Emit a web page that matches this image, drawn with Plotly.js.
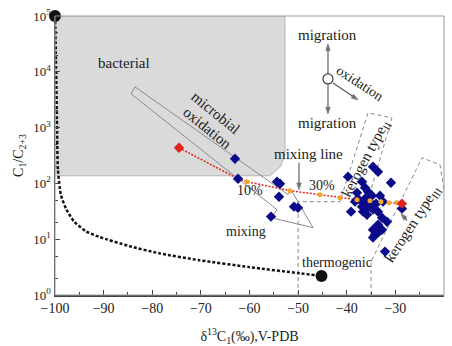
<!DOCTYPE html>
<html><head><meta charset="utf-8">
<script src="https://cdn.plot.ly/plotly-3.0.1.min.js"></script>
<style>html,body{margin:0;padding:0;background:#fff}#c{width:452px;height:346px}</style>
</head><body><div id="c"></div>
<script>
// ---- data ----
const xTickVals = [-100,-90,-80,-70,-60,-50,-40,-30,-20];
const yTickVals = [1,10,100,1000,10000,100000];
const yTickText = ['10<sup>0</sup>','10<sup>1</sup>','10<sup>2</sup>','10<sup>3</sup>','10<sup>4</sup>','10<sup>5</sup>'];

// bacterial field outline
const bactX = [-100,-52.7,-52.7,-53.6,-55.8,-100];
const bactY = [100000,100000,330,200,137,137];

// black dashed end-member curve
const curveX = [-100,-99.8,-99.6,-99.4,-98.8,-97.7,-96.1,-93.6,-90.9,-84.7,-78.6,-70.3,-60,-49.7,-45.2];
const curveY = [100000,16200,1380,178,63,34.7,20.9,13.8,11,7.5,5.6,4.2,3.16,2.45,2.2];
const endX = [-100,-45.2];
const endY = [100000,2.2];

// microbial oxidation arrow band
const oxBandX = [-84.37,-83.55,-52.08,-51.46,-46.94,-55.58,-54.34,-84.37];
const oxBandY = [4027,5370,63,77,16.1,24.3,33.8,4027];

// kerogen fields (dashed)
const ker2X = [-50,-50,-41.39,-35.63,-30.70,-36.04];
const ker2Y = [1,47.1,47.1,1841,1496,38.3];
const ker3X = [-35,-35,-24.52,-20.82,-20];
const ker3Y = [1,3.97,288,216,77];

// samples
const sampX = [-62.98,-62.37,-54.34,-53.73,-53.93,-50.85,-50.03,-55.58,
  -34.60,-33.57,-39.74,-36.86,-30.90,-37.89,-35.63,-34.81,-33.16,-36.04,-38.30,-36.65,-35.22,-33.98,-32.54,
  -39.12,-36.86,-35.63,-34.60,-36.65,-33.57,-35.84,-28.64,-32.75,-31.72,-33.57,-34.60,-32.75,-34.19,-33.57,-34.60,-32.13,
  -37.69,-36.24];
const sampY = [277,121,107,98.8,57.8,38.3,36.7,25.4,
  199,162,132,107,103,68.2,71.1,60.3,60.3,55.5,47.1,45.2,45.2,43.4,47.1,
  31.2,38.3,36.7,33.9,31.2,31.2,27.5,35.3,24.3,20.6,18.2,14.8,14.8,12.1,13.1,10.7,6.0,
  53.2,83.8];

// mixing line (end members + steps)
const mixX = [-74.5,-62.4,-60.51,-51.67,-45.50,-41.39,-37.89,-35.22,-32.96,-31.31,-29.67,-28.64];
const mixY = [435,121,107,74,62.8,55.5,51.1,49.0,47.1,45.2,45.2,43.4];
const stepX = [-60.51,-51.67,-45.50,-41.39,-37.89,-35.22,-32.96,-31.31,-29.67];
const stepY = [107,74,62.8,55.5,51.1,49.0,47.1,45.2,45.2];
const memberX = [-74.5,-28.64];
const memberY = [435,43.4];

// migration / oxidation sketch: centre and arrows [x0,y0,x1,y1] (y as ratio)
const hubX = [-43.86], hubY = [7460];
const arrows = [
  [-43.86,9160,-43.86,31550],
  [-43.86,6080,-43.86,1766],
  [-42.83,6320,-37.69,3141],
  [-49.82,234,-49.82,77],
  [-27.6,21.5,-28.84,28.7]
];

// ---- plot ----
const F = 'Liberation Serif, Times New Roman, serif';
const traces = [
  {x:bactX,y:bactY,mode:'lines',fill:'toself',fillcolor:'#dadada',line:{color:'#b5b5b5',width:1},hoverinfo:'skip'},
  {x:oxBandX,y:oxBandY,mode:'lines',line:{color:'#8a8a8a',width:1}},
  {x:ker2X,y:ker2Y,mode:'lines',line:{color:'#8a8a8a',width:1,dash:'4px,3px'}},
  {x:ker3X,y:ker3Y,mode:'lines',line:{color:'#8a8a8a',width:1,dash:'4px,3px'}},
  {x:curveX,y:curveY,mode:'lines',line:{color:'#111',width:2.5,dash:'3px,2px',shape:'spline',smoothing:0.6}},
  {x:endX,y:endY,mode:'markers',cliponaxis:false,marker:{color:'#111',size:12}},
  {x:mixX,y:mixY,mode:'lines',line:{color:'#e0251f',width:1.5,dash:'2px,1.5px'}},
  {x:sampX,y:sampY,mode:'markers',marker:{symbol:'diamond',color:'#0b0b8a',size:8}},
  {x:stepX,y:stepY,mode:'markers',marker:{color:'#f3a52a',size:5}},
  {x:memberX,y:memberY,mode:'markers',marker:{symbol:'diamond',color:'#e0251f',size:8}}
];
arrows.forEach(a=>{
  traces.push({x:[a[0],a[2]],y:[a[1],a[3]],mode:'lines+markers',cliponaxis:false,
    line:{color:'#555',width:1.1},
    marker:{symbol:'arrow',angleref:'previous',size:[0,7],color:'#333'}});
});
traces.push({x:hubX,y:hubY,mode:'markers',marker:{symbol:'circle',color:'#fff',size:10,line:{color:'#444',width:1.3}}});

function txt(t,x,ly,size,angle){return {text:t,x:x,y:ly,xref:'x',yref:'y',showarrow:false,font:{family:F,size:size,color:'#222'},textangle:angle||0};}

const annotations = [
  txt('bacterial',-85.81,4.159,15),
  txt('microbial',-66.9,3.265,15,39),
  txt('oxidation',-68.7,2.996,15,39),
  txt('migration',-43.86,4.66,15),
  txt('migration',-43.86,3.086,15),
  txt('oxidation',-37.28,3.783,14,33),
  txt('mixing line',-47.97,2.531,15),
  txt('10%',-59.9,1.869,14),
  txt('30%',-45.09,1.959,14),
  txt('mixing',-60.72,1.136,14),
  txt('thermogenic',-42.0,0.581,14),
  txt('kerogen type<sub>II</sub>',-36.04,2.43,15,-62),
  txt('kerogen type<sub>III</sub>',-26.45,1.28,15,-57)
];

const layout = {
  width:452,height:346,
  margin:{l:55,r:8,t:16,b:51},
  paper_bgcolor:'#fff',plot_bgcolor:'#fff',
  showlegend:false,
  font:{family:F,color:'#222'},
  xaxis:{range:[-100,-20],tickvals:xTickVals,ticks:'inside',ticklen:5,tickcolor:'#444',
    showline:true,linecolor:'#444',linewidth:1.5,showgrid:false,zeroline:false,
    tickfont:{family:F,size:14,color:'#222'},
    minor:{ticks:'inside',ticklen:3,dtick:5,tickcolor:'#444',showgrid:false},
    title:{text:'δ<sup>13</sup>C<sub>1</sub>(‰),V-PDB',font:{family:F,size:14,color:'#222'},standoff:16}},
  yaxis:{type:'log',range:[0,5],tickvals:yTickVals,ticktext:yTickText,ticks:'inside',ticklen:5,tickcolor:'#444',
    showline:true,linecolor:'#444',linewidth:1.5,showgrid:false,zeroline:false,
    tickfont:{family:F,size:13,color:'#222'},
    minor:{ticks:'inside',ticklen:3,tickcolor:'#444',showgrid:false},
    title:{text:'C<sub>1</sub>/C<sub>2+3</sub>',font:{family:F,size:14,color:'#222'},standoff:6}},
  shapes:[{type:'rect',xref:'paper',yref:'paper',x0:0,x1:1,y0:0,y1:1,line:{color:'#999',width:1}}],
  annotations:annotations
};
Plotly.newPlot('c',traces,layout,{displayModeBar:false,staticPlot:true});
</script></body></html>
